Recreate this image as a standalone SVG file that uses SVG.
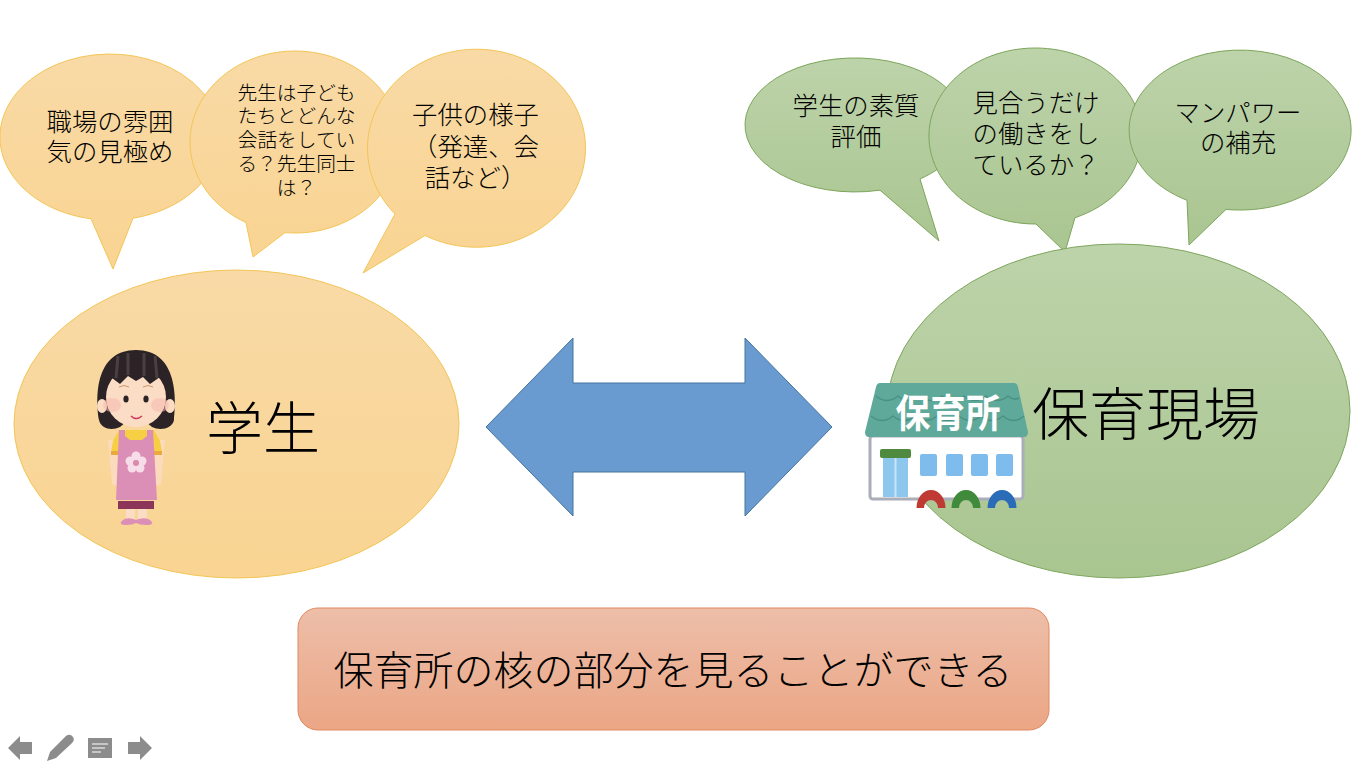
<svg xmlns="http://www.w3.org/2000/svg" width="1366" height="768" viewBox="0 0 1366 768">
<style>
text{font-family:"Noto Sans CJK JP","Noto Sans",sans-serif;font-weight:300;fill:#000;text-anchor:middle;dominant-baseline:central}
.o{fill:url(#og);stroke:#f3c556;stroke-width:1}
.g{fill:url(#gg);stroke:#7da65c;stroke-width:1}
.t25{font-size:25.400px}.t19{font-size:19.700px}
.nav{fill:#8c8c8c}
.hair{fill:#2b2325}.skin{fill:#fbdcc4}
</style>
<defs>
<linearGradient id="og" x1="0" y1="0" x2="0" y2="1"><stop offset="0" stop-color="#f9daa6"/><stop offset="1" stop-color="#f9d492"/></linearGradient>
<linearGradient id="gg" x1="0" y1="0" x2="0" y2="1"><stop offset="0" stop-color="#bdd3aa"/><stop offset="1" stop-color="#a9c590"/></linearGradient>
<linearGradient id="rg" x1="0" y1="0" x2="0" y2="1"><stop offset="0" stop-color="#edbea9"/><stop offset="1" stop-color="#eba685"/></linearGradient>
</defs>
<rect width="1366" height="768" fill="#fff"/>

<g id="bubble-atmosphere">
<path class="o" d="M91 218.800L113 269L133 218.200A110 83 0 1 0 91 218.800Z"/>
<text class="t25" x="110" y="120">職場の雰囲</text><text class="t25" x="110" y="150">気の見極め</text>
</g>
<g id="bubble-teachers">
<path class="o" d="M246 222.500L253 257L285 232.600A105 91 0 1 0 246 222.500Z"/>
<text class="t19" x="296.500" y="91">先生は子ども</text><text class="t19" x="296.500" y="114">たちとどんな</text><text class="t19" x="296.500" y="138">会話をしてい</text><text class="t19" x="296.500" y="162">る？先生同士</text><text class="t19" x="296.500" y="186">は？</text>
</g>
<g id="bubble-children">
<path class="o" d="M395 214L363 273L425 235.500A109 99 0 1 0 395 214Z"/>
<text class="t25" x="475.500" y="113">子供の様子</text><text class="t25" x="475.500" y="145">（発達、会</text><text class="t25" x="475.500" y="176">話など）</text>
</g>

<g id="bubble-quality">
<path class="g" d="M880 190.200L939 241L920 179A110 67 0 1 0 880 190.200Z"/>
<text class="t25" x="856" y="104">学生の素質</text><text class="t25" x="856" y="135">評価</text>
</g>
<g id="bubble-work">
<path class="g" d="M1036 224L1065 252L1075 217.700A106.500 88 0 1 0 1036 224Z"/>
<text class="t25" x="1036" y="101">見合うだけ</text><text class="t25" x="1036" y="132">の働きをし</text><text class="t25" x="1036" y="163">ているか？</text>
</g>
<g id="bubble-manpower">
<path class="g" d="M1187 200.300L1189 245L1226 209.400A111 80 0 1 0 1187 200.300Z"/>
<text class="t25" x="1238" y="111">マンパワー</text><text class="t25" x="1238" y="141">の補充</text>
</g>

<g id="student">
<ellipse class="o" cx="236.500" cy="424" rx="222.500" ry="154"/>
<text x="263" y="424" font-size="57">学生</text>
<g id="student-figure">
<path class="hair" d="M99 420C95 395 96 350 136 350C176 350 177 395 174 420C172 429 160 431 152 427L146 422H126L120 427C112 431 101 429 99 420Z"/>
<path class="skin" d="M108 440L118 440L118 486L112 484ZM155 440L165 440L161 484L155 486Z" opacity=".8"/>
<path fill="#f7cf45" d="M113 441L119 430H154L160 441L162 452H111Z"/>
<rect x="111" y="451" width="8" height="4" fill="#e9a93c"/><rect x="154" y="451" width="8" height="4" fill="#e9a93c"/>
<path class="skin" d="M126 505H135V522H126ZM138 505H147V522H138Z"/>
<path fill="#dc8fb6" d="M119 430H125V436L130 440H142L147 436V430H153L157 500H116Z"/>
<rect x="118" y="501" width="36" height="8" fill="#8c3559"/>
<path fill="#dc8fb6" d="M121 522C125 517 131 518 136 520C141 518 148 517 152 522C153 524 151 525 147 525C142 525 138 524 136 523C134 524 130 525 126 525C122 525 120 524 121 522Z"/>
<g fill="#f6dde8"><circle cx="136" cy="456" r="4.500"/><circle cx="142" cy="461" r="4.500"/><circle cx="140" cy="468" r="4.500"/><circle cx="132" cy="468" r="4.500"/><circle cx="130" cy="461" r="4.500"/></g><circle cx="136" cy="463" r="3" fill="#d88aa8"/>
<ellipse class="skin" cx="136" cy="397" rx="30" ry="30"/>
<ellipse class="skin" cx="102" cy="406" rx="5" ry="7"/><ellipse class="skin" cx="170" cy="406" rx="5" ry="7"/>
<path class="hair" d="M105 388C103 360 116 352 136 352C156 352 169 360 167 388L160 377L150 384L143 377L136 381L128 376L120 384L112 378Z"/>
<path d="M118 356L116 378M128 353L128 375M144 353L144 376M155 356L157 378" stroke="#4a4042" stroke-width="3" fill="none"/>
<ellipse cx="112" cy="405" rx="9" ry="7" fill="#f6b9ae" opacity=".55"/><ellipse cx="160" cy="405" rx="9" ry="7" fill="#f6b9ae" opacity=".55"/>
<path d="M119 387Q124 384 129 387M143 387Q148 384 153 387" stroke="#c89a70" stroke-width="1" fill="none"/>
<ellipse class="hair" cx="126" cy="399" rx="2.600" ry="3.500"/><ellipse class="hair" cx="146" cy="399" rx="2.600" ry="3.500"/>
<path d="M131 416Q136 421 142 416" fill="none" stroke="#d2365f" stroke-width="1.500"/>
</g>
</g>

<g id="nursery">
<ellipse class="g" cx="1118.500" cy="411" rx="231.500" ry="167"/>
<text x="1146" y="410" font-size="57">保育現場</text>
<g id="nursery-building">
<rect x="870" y="436" width="153" height="63" rx="3" fill="#fff" stroke="#a9aeb8" stroke-width="3"/>
<rect x="883" y="457" width="25" height="40" fill="#8ec7ee"/><rect x="894.500" y="457" width="2" height="40" fill="#c9e4f7"/>
<rect x="880" y="449" width="31" height="9" rx="2" fill="#4f8a3f"/>
<g fill="#7dbcec"><rect x="920" y="454" width="17" height="22" rx="2"/><rect x="946" y="454" width="17" height="22" rx="2"/><rect x="971" y="454" width="17" height="22" rx="2"/><rect x="996" y="454" width="17" height="22" rx="2"/></g>
<path d="M880 383H1014Q1017 383 1018 387L1028 432Q1028 437 1024 437H869Q865 437 865 432L876 387Q877 383 880 383Z" fill="#5fa99a"/>
<path d="M876 396Q887 405 898 396Q909 405 920 396Q931 405 942 396Q953 405 964 396Q975 405 986 396Q997 405 1008 396Q1014 401 1019 398M871 416Q882 425 893 416Q904 425 915 416Q926 425 937 416Q948 425 959 416Q970 425 981 416Q992 425 1003 416Q1014 425 1024 416" fill="none" stroke="#4a9184" stroke-width="1.500"/>
<text x="948" y="410" font-size="35" transform="translate(948 410) scale(1 1.120) translate(-948 -410)" style="font-weight:700;fill:#fff">保育所</text>
<path d="M916.500 508A14.500 18 0 0 1 945.500 508H938A7 8 0 0 0 924 508Z" fill="#bf3a33"/>
<path d="M951.500 508A14.500 18 0 0 1 980.500 508H973A7 8 0 0 0 959 508Z" fill="#3f8a3b"/>
<path d="M987.500 508A14.500 18 0 0 1 1016.500 508H1009A7 8 0 0 0 995 508Z" fill="#2a6cb8"/>
</g>
</g>

<g id="connectors">
<path d="M486 427L573 338V383H745V338L832 427L745 516V472H573V516Z" fill="#6a9bd0" stroke="#44729f"/>
</g>

<g id="summary">
<rect x="298" y="608" width="751" height="122" rx="20" fill="url(#rg)" stroke="#df8a5f"/>
<text x="673" y="668" font-size="40">保育所の核の部分を見ることができる</text>
</g>

<g id="nav">
<path class="nav" d="M8 748L20 736V742H32V754H20V760Z"/>
<path class="nav" d="M47 761L50 752L66 736Q70 733 73 737Q75 740 72 743L56 758Z"/>
<rect class="nav" x="88" y="738" width="24" height="20"/>
<path d="M92 744H108M92 748H105M92 752H101" stroke="#fff" stroke-width="1.200"/>
<path class="nav" d="M152 748L140 736V742H128V754H140V760Z"/>
</g>
</svg>
